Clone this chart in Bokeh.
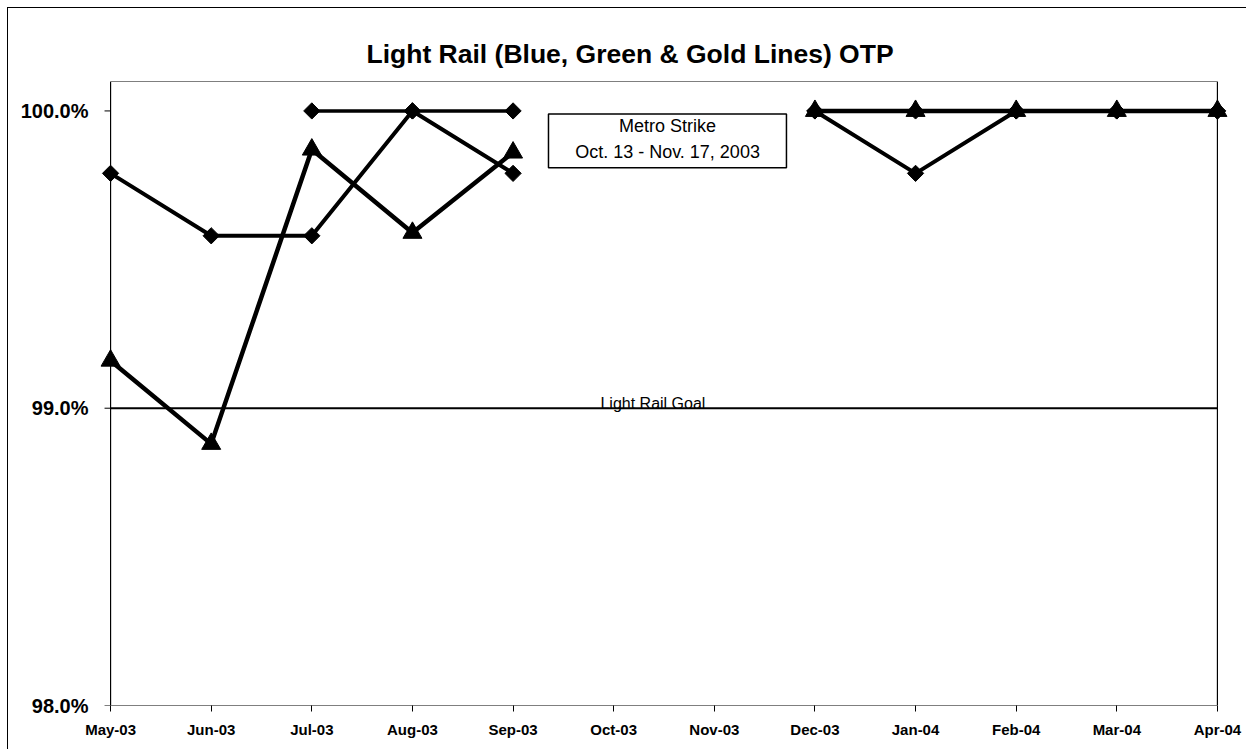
import math
from bokeh.plotting import figure
from bokeh.models import FixedTicker, Label, BoxAnnotation, ColumnDataSource
from bokeh.embed import file_html
from bokeh.resources import INLINE

months = ["May-03", "Jun-03", "Jul-03", "Aug-03", "Sep-03", "Oct-03",
          "Nov-03", "Dec-03", "Jan-04", "Feb-04", "Mar-04", "Apr-04"]
blue_line = [99.79, 99.58, 99.58, 100.0, 99.79, None, None, 100.0, 99.79, 100.0, 100.0, 100.0]
green_line = [99.16, 98.88, 99.87, 99.59, 99.86, None, None, 100.0, 100.0, 100.0, 100.0, 100.0]
gold_line = [None, None, 100.0, 100.0, 100.0, None, None, 100.0, 100.0, 100.0, 100.0, 100.0]
goal = 99.0
y_ticks = [98.0, 99.0, 100.0]
y_tick_labels = ["98.0%", "99.0%", "100.0%"]

def clean(vals):
    return [float("nan") if v is None else v for v in vals]

xs = list(range(len(months)))
FONT = "Liberation Sans"
Y_TOP = 100.099
PAD = 0.12  # extra room so edge markers are not clipped

p = figure(width=1239, height=742, output_backend="svg", toolbar_location=None,
           x_range=(xs[0] - PAD, xs[-1] + PAD), y_range=(y_ticks[0], Y_TOP),
           min_border_left=90, min_border_right=18, min_border_top=73, min_border_bottom=45)
p.title.text = "Light Rail (Blue, Green & Gold Lines) OTP"
p.title.align = "left"
p.title.offset = 268
p.title.text_font = FONT
p.title.text_font_size = "26.5px"
p.title.text_font_style = "bold"
p.title.text_color = "black"
p.title.standoff = 25

p.grid.visible = False
p.outline_line_color = None
p.background_fill_color = "white"
p.border_fill_color = "white"

p.xaxis.ticker = FixedTicker(ticks=xs)
p.xaxis.major_label_overrides = {i: m for i, m in enumerate(months)}
p.yaxis.ticker = FixedTicker(ticks=y_ticks)
p.yaxis.major_label_overrides = {t: l for t, l in zip(y_ticks, y_tick_labels)}
for ax in (p.xaxis, p.yaxis):
    ax.axis_line_color = None
    ax.minor_tick_line_color = None
    ax.major_tick_in = 0
    ax.major_label_text_font = FONT
    ax.major_label_text_font_style = "bold"
    ax.major_label_text_color = "black"
p.xaxis.major_tick_line_color = "black"
p.xaxis.major_tick_out = 6
p.yaxis.major_tick_line_color = None
p.yaxis.major_tick_out = 0
p.xaxis.major_label_text_font_size = "15px"
p.yaxis.major_label_text_font_size = "20px"
p.xaxis.major_label_standoff = 9
p.yaxis.major_label_standoff = 10

# plot-area border (axes lines + frame) from first to last category
p.add_layout(BoxAnnotation(left=xs[0], right=xs[-1], bottom=y_ticks[0], top=Y_TOP,
                           fill_alpha=0, line_color="black", line_alpha=1.0, line_width=1.2))
# y tick marks at the y axis
p.segment(x0=[xs[0] - 0.06] * len(y_ticks), x1=[xs[0]] * len(y_ticks),
          y0=y_ticks, y1=y_ticks, line_color="black", line_width=1)

# goal line across the plot area
p.segment(x0=[xs[0]], x1=[xs[-1]], y0=[goal], y1=[goal], line_color="black", line_width=2)
p.add_layout(Label(x=5.39, y=goal, text="Light Rail Goal", text_align="center",
                   text_baseline="alphabetic", y_offset=5, text_font=FONT,
                   text_font_size="16px", text_color="black"))

src = ColumnDataSource(dict(x=xs, blue=clean(blue_line), green=clean(green_line), gold=clean(gold_line)))

p.line("x", "gold", source=src, line_color="black", line_width=3.5)
p.scatter("x", "gold", source=src, marker="square", angle=math.pi / 4, size=11.5, color="black")
p.line("x", "blue", source=src, line_color="black", line_width=4)
p.scatter("x", "blue", source=src, marker="square", angle=math.pi / 4, size=11.5, color="black")
p.line("x", "green", source=src, line_color="black", line_width=4.5)
p.scatter("x", "green", source=src, marker="triangle", size=19, color="black")

p.add_layout(BoxAnnotation(left=4.352, right=6.717, top=99.990, bottom=99.809,
                           fill_color="white", fill_alpha=1.0,
                           line_color="black", line_alpha=1.0, line_width=1.5))
p.add_layout(Label(x=5.535, y=99.906, text="Metro Strike\nOct. 13 - Nov. 17, 2003",
                   text_align="center", text_baseline="middle", text_font=FONT,
                   text_font_size="18px", text_color="black", text_line_height=1.33))

p.styles = {"margin-left": "7px", "margin-top": "7px",
            "border-left": "1px solid black", "border-top": "1px solid black"}

open("out.html", "w").write(file_html(p, INLINE))
